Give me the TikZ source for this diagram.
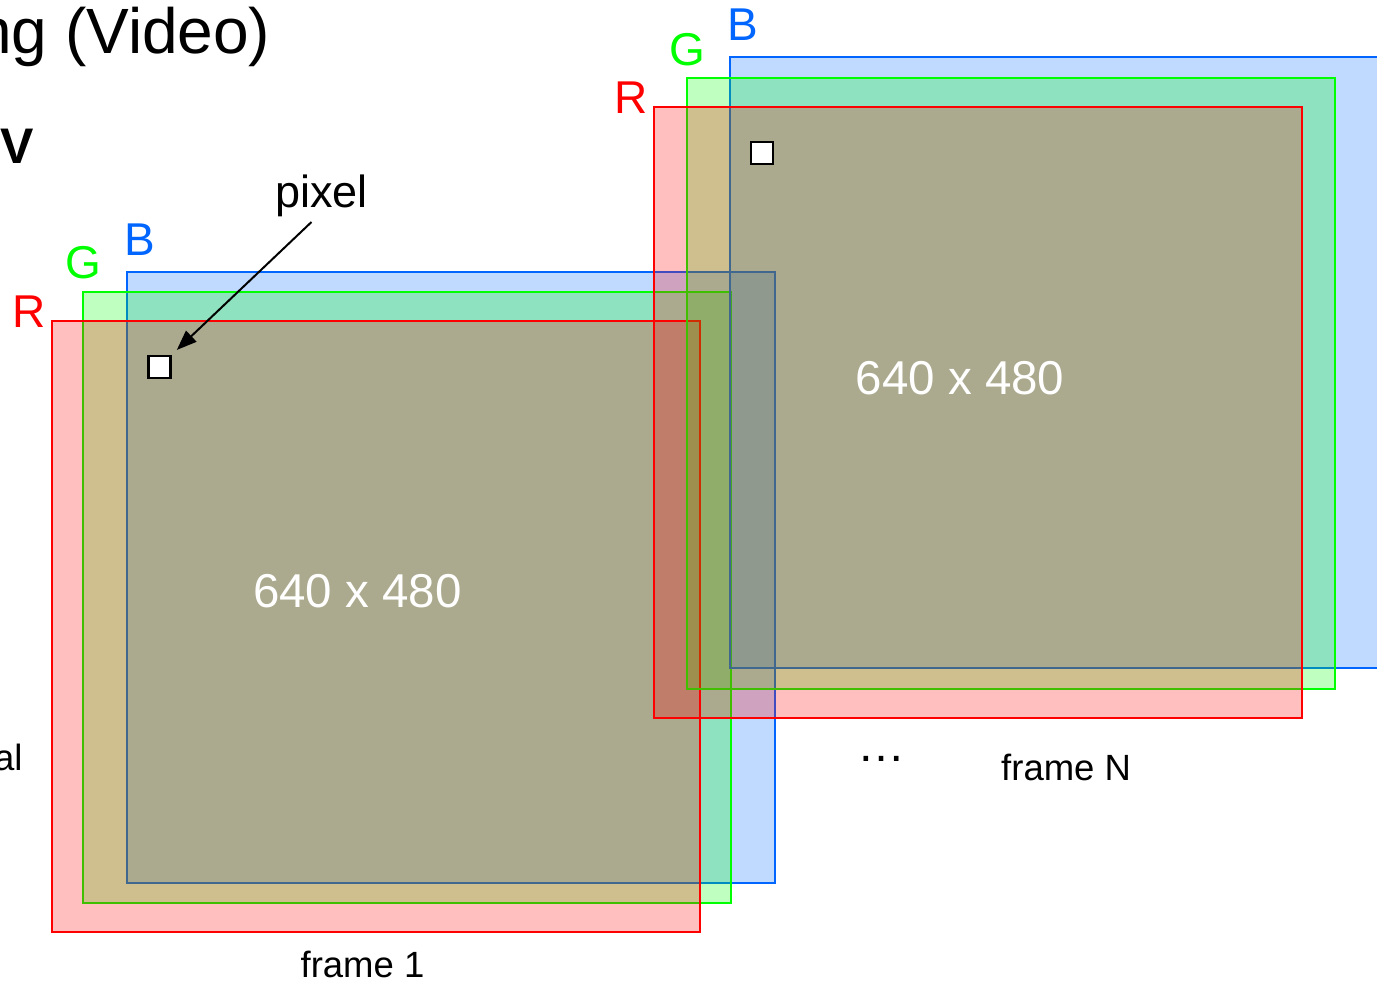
\documentclass[tikz,border=0pt]{standalone}
\usepackage{fontspec}
\setmainfont{Liberation Sans}
\usepackage{xcolor}
\usetikzlibrary{arrows.meta,positioning}

\definecolor{chR}{RGB}{255,0,0}
\definecolor{chG}{RGB}{0,255,0}
\definecolor{chB}{RGB}{0,102,255}

\begin{document}
\begin{tikzpicture}[
    x=1pt, y=-1pt,
    plane/.style={rectangle, draw=#1, fill=#1, fill opacity=0.25, line width=2pt, minimum width=648pt, minimum height=611pt, anchor=north west, inner sep=0, outer sep=0},
    chan/.style={text=#1, font=\fontsize{46}{50}\selectfont, inner sep=0},
    pixbox/.style={rectangle, draw=black, line width=2.5pt, fill=white, minimum size=22pt, inner sep=0},
    size/.style={text=white, font=\fontsize{47.5}{52}\selectfont, inner sep=0, anchor=base},
    caption/.style={font=\fontsize{36.5}{40}\selectfont, inner sep=0},
    arrow/.style={-{Triangle[length=20pt,width=15pt]}, line width=2pt}
]
    \useasboundingbox (0,0) rectangle (1377,983);

    % Slide text cut off at the left
    \node[font=\fontsize{64}{70}\selectfont, anchor=base west, inner sep=0] (title) at (-24,53) {ng (Video)};
    \node[font=\bfseries\fontsize{50}{55}\selectfont, anchor=base west, inner sep=0] (sub) at (0,163) {V};
    \node[caption, anchor=base west] (side) at (-6,770) {al};

    % Frame 1
    \node[plane=chB] (b1) at (127,272) {};
    \node[plane=chG] (g1) at (83,292) {};
    \node[plane=chR] (r1) at (52,321) {};
    \node[chan=chR, anchor=base east] (rlab1) at ([xshift=-6pt, yshift=-6pt]r1.north west) {R};
    \node[chan=chG, anchor=base] (glab1) at ([yshift=14pt]g1.north west) {G};
    \node[chan=chB, anchor=base west] (blab1) at ([xshift=-3pt, yshift=17pt]b1.north west) {B};
    \node[pixbox] (px1) at (159.5,367) {};
    \node[size] (dim1) at (357.5,607) {640 x 480};
    \node[caption, anchor=base] (cap1) at (362.5,977) {frame 1};

    % Pixel
    \node[font=\fontsize{45}{50}\selectfont, anchor=base, inner sep=0] (pixel) at (321.5,207) {pixel};
    \draw[arrow, shorten >=7pt] ([xshift=-10pt, yshift=-15pt]pixel.base) -- (px1.north east);

    % Frame N
    \node[plane=chB] (bN) at (730,57) {};
    \node[plane=chG] (gN) at (687,78) {};
    \node[plane=chR] (rN) at (654,107) {};
    \node[chan=chR, anchor=base east] (rlabN) at ([xshift=-6pt, yshift=-6pt]rN.north west) {R};
    \node[chan=chG, anchor=base] (glabN) at ([yshift=13pt]gN.north west) {G};
    \node[chan=chB, anchor=base west] (blabN) at ([xshift=-3pt, yshift=17pt]bN.north west) {B};
    \node[pixbox] (pxN) at (762,153) {};
    \node[size] (dimN) at (960,394) {640 x 480};

    % Captions
    \node[font=\fontsize{48}{50}\selectfont, anchor=base, inner sep=0] (dots) at (881,761) {…};
    \node[caption, anchor=base west] (capN) at (1001,780) {frame N};

\end{tikzpicture}
\end{document}
